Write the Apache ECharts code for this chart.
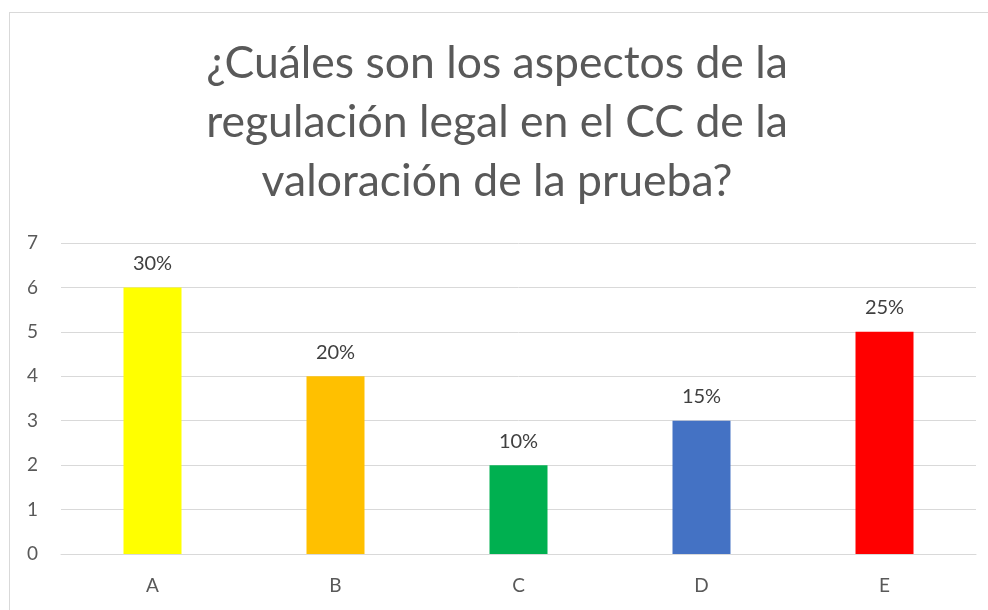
<!DOCTYPE html>
<html>
<head>
<meta charset="utf-8">
<script src="https://cdn.jsdelivr.net/npm/echarts@6/dist/echarts.min.js"></script>
<style>
html, body { margin: 0; padding: 0; background: #fff; overflow: hidden; }
#chart { position: absolute; left: 9px; top: 12px; width: 990px; height: 610px; border: 1px solid #d9d9d9; box-sizing: border-box; }
</style>
</head>
<body>
<div id="chart"></div>
<script>
// datos de la encuesta
var categorias = ['A', 'B', 'C', 'D', 'E'];
var valores = [6, 4, 2, 3, 5];
var porcentajes = ['30%', '20%', '10%', '15%', '25%'];
var colores = ['#FFFF00', '#FFC000', '#00B050', '#4472C4', '#FF0000'];
var tituloLineas = ['¿Cuáles son los aspectos de la', 'regulación legal en el CC de la', 'valoración de la prueba?'];

var myChart = echarts.init(document.getElementById('chart'));
var option = {
	animation: false,
	textStyle: { fontFamily: 'Lato' },
	title: {
		text: tituloLineas.join('\n'),
		left: 482,
		textAlign: 'center',
		top: 16,
		textStyle: {
			fontFamily: 'Lato',
			fontSize: 44.5,
			fontWeight: 'normal',
			color: '#595959',
			lineHeight: 59
		}
	},
	grid: {
		left: 51,
		width: 915,
		top: 230,
		bottom: 67
	},
	xAxis: {
		type: 'category',
		data: categorias,
		axisTick: { show: false },
		axisLine: { lineStyle: { color: '#d9d9d9', width: 1 } },
		axisLabel: { color: '#595959', fontSize: 19, margin: 22 }
	},
	yAxis: {
		type: 'value',
		min: 0,
		max: 7,
		interval: 1,
		axisLabel: { color: '#595959', fontSize: 19, margin: 23 },
		splitLine: { lineStyle: { color: '#d9d9d9', width: 1 } }
	},
	series: [{
		type: 'bar',
		barWidth: 58,
		data: valores.map(function(v, i) {
			return { value: v, itemStyle: { color: colores[i] } };
		}),
		label: {
			show: true,
			position: 'top',
			distance: 14,
			fontSize: 20,
			color: '#404040',
			formatter: function(p) { return porcentajes[p.dataIndex]; }
		}
	}]
};
myChart.setOption(option);
</script>
</body>
</html>
